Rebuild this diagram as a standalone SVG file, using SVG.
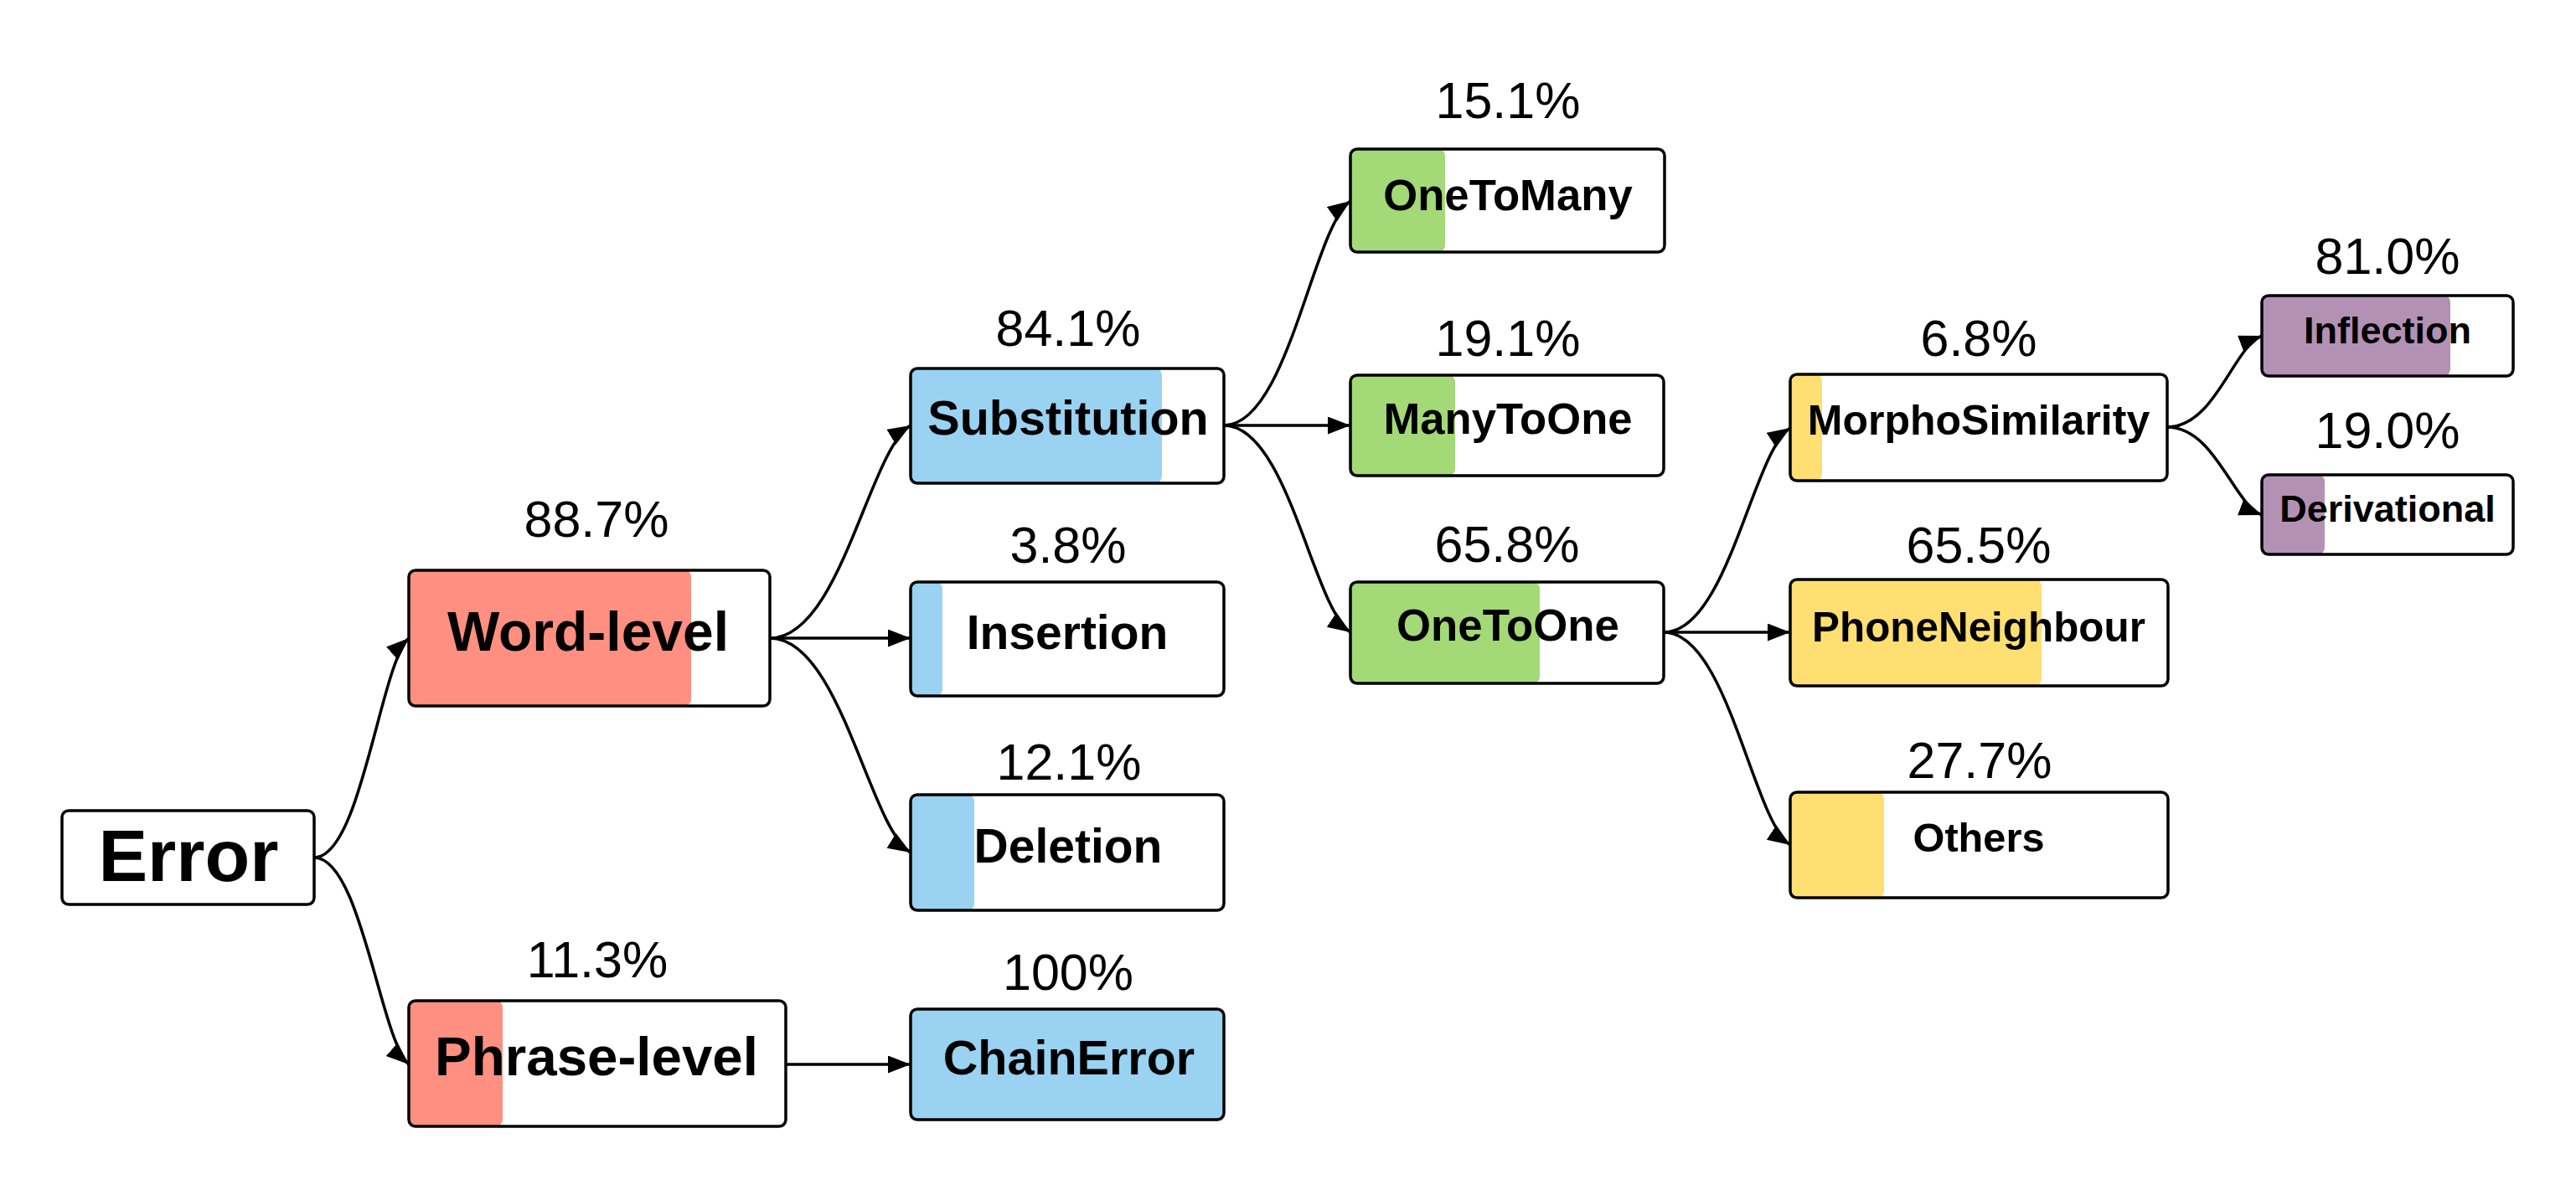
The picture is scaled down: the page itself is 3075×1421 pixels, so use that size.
<svg xmlns="http://www.w3.org/2000/svg" width="3075" height="1421" viewBox="0 0 3075 1421">
<style>
.box{fill:none;stroke:#000;stroke-width:3.5}
.bg{fill:#fff}
.red{fill:#FF8F80}
.blue{fill:#9AD2F2}
.green{fill:#A3D977}
.yellow{fill:#FFDF71}
.purple{fill:#B391B5}
.lbl{font-family:"Liberation Sans",Arial,sans-serif;font-weight:bold;text-anchor:middle;fill:#000}
.pct{font-family:"Liberation Sans",Arial,sans-serif;font-size:61px;text-anchor:middle;fill:#000}
.edge{fill:none;stroke:#000;stroke-width:3.5}
</style>
<defs>
<marker id="arr" markerUnits="userSpaceOnUse" markerWidth="28" markerHeight="22" refX="27" refY="10.5" orient="auto">
<path d="M0,0 L27,10.5 L0,21 z" fill="#000"/>
</marker>
</defs>
<rect width="3075" height="1421" fill="#fff"/>

<g id="connectors">
<path class="edge" marker-end="url(#arr)" d="M375,1024 C431,1024 454,793 488,762"/>
<path class="edge" marker-end="url(#arr)" d="M375,1024 C431,1024 454,1241 488,1271"/>
<path class="edge" marker-end="url(#arr)" d="M919,762 C1003,762 1037,538 1087,508"/>
<path class="edge" marker-end="url(#arr)" d="M919,762 L1087,762"/>
<path class="edge" marker-end="url(#arr)" d="M919,762 C1003,762 1037,987 1087,1018"/>
<path class="edge" marker-end="url(#arr)" d="M938,1271 L1087,1271"/>
<path class="edge" marker-end="url(#arr)" d="M1461,508 C1537,508 1567,272 1612,240"/>
<path class="edge" marker-end="url(#arr)" d="M1461,508 L1612,508"/>
<path class="edge" marker-end="url(#arr)" d="M1461,508 C1537,508 1567,725 1612,755"/>
<path class="edge" marker-end="url(#arr)" d="M1986,755 C2062,755 2092,540 2137,511"/>
<path class="edge" marker-end="url(#arr)" d="M1986,755 L2137,755"/>
<path class="edge" marker-end="url(#arr)" d="M1986,755 C2062,755 2092,979 2137,1009"/>
<path class="edge" marker-end="url(#arr)" d="M2587,510 C2644,510 2666,414 2700,401"/>
<path class="edge" marker-end="url(#arr)" d="M2587,510 C2644,510 2666,602 2700,615"/>
</g>

<g id="pcts">
<text class="pct" x="712" y="641">88.7%</text>
<text class="pct" x="713" y="1167">11.3%</text>
<text class="pct" x="1275" y="413">84.1%</text>
<text class="pct" x="1275" y="672">3.8%</text>
<text class="pct" x="1276" y="931">12.1%</text>
<text class="pct" x="1275" y="1182">100%</text>
<text class="pct" x="1800" y="141">15.1%</text>
<text class="pct" x="1800" y="425">19.1%</text>
<text class="pct" x="1799" y="671">65.8%</text>
<text class="pct" x="2362" y="425">6.8%</text>
<text class="pct" x="2362" y="672">65.5%</text>
<text class="pct" x="2363" y="929">27.7%</text>
<text class="pct" x="2850" y="327">81.0%</text>
<text class="pct" x="2850" y="535">19.0%</text>
</g>

<g id="node-error">
<rect class="bg" x="74" y="968" width="301" height="112" rx="8"/>
<rect class="box" x="74" y="968" width="301" height="112" rx="8"/>
<text class="lbl" x="225" y="1052" font-size="88">Error</text>
</g>

<g id="node-word-level">
<rect class="bg" x="488" y="681" width="431" height="162" rx="8"/>
<rect class="red" x="488" y="681" width="337" height="162" rx="8"/>
<rect class="box" x="488" y="681" width="431" height="162" rx="8"/>
<text class="lbl" x="702" y="777" font-size="66">Word-level</text>
</g>

<g id="node-phrase-level">
<rect class="bg" x="488" y="1195" width="450" height="150" rx="8"/>
<rect class="red" x="488" y="1195" width="112" height="150" rx="8"/>
<rect class="box" x="488" y="1195" width="450" height="150" rx="8"/>
<text class="lbl" x="712" y="1284" font-size="65.5">Phrase-level</text>
</g>

<g id="node-substitution">
<rect class="bg" x="1087" y="440" width="374" height="137" rx="8"/>
<rect class="blue" x="1087" y="440" width="300" height="137" rx="8"/>
<rect class="box" x="1087" y="440" width="374" height="137" rx="8"/>
<text class="lbl" x="1275" y="519" font-size="57.5">Substitution</text>
</g>

<g id="node-insertion">
<rect class="bg" x="1087" y="695" width="374" height="136" rx="8"/>
<rect class="blue" x="1087" y="695" width="38" height="136" rx="8"/>
<rect class="box" x="1087" y="695" width="374" height="136" rx="8"/>
<text class="lbl" x="1274" y="775" font-size="57">Insertion</text>
</g>

<g id="node-deletion">
<rect class="bg" x="1087" y="949" width="374" height="138" rx="8"/>
<rect class="blue" x="1087" y="949" width="76" height="138" rx="8"/>
<rect class="box" x="1087" y="949" width="374" height="138" rx="8"/>
<text class="lbl" x="1275" y="1030" font-size="57">Deletion</text>
</g>

<g id="node-chainerror">
<rect class="blue" x="1087" y="1205" width="374" height="132" rx="8"/>
<rect class="box" x="1087" y="1205" width="374" height="132" rx="8"/>
<text class="lbl" x="1276" y="1283" font-size="57.5">ChainError</text>
</g>

<g id="node-onetomany">
<rect class="bg" x="1612" y="178" width="375" height="123" rx="8"/>
<rect class="green" x="1612" y="178" width="113" height="123" rx="8"/>
<rect class="box" x="1612" y="178" width="375" height="123" rx="8"/>
<text class="lbl" x="1800" y="251" font-size="52.7">OneToMany</text>
</g>

<g id="node-manytoone">
<rect class="bg" x="1612" y="448" width="374" height="120" rx="8"/>
<rect class="green" x="1612" y="448" width="125" height="120" rx="8"/>
<rect class="box" x="1612" y="448" width="374" height="120" rx="8"/>
<text class="lbl" x="1800" y="518" font-size="52.6">ManyToOne</text>
</g>

<g id="node-onetoone">
<rect class="bg" x="1612" y="695" width="374" height="121" rx="8"/>
<rect class="green" x="1612" y="695" width="226" height="121" rx="8"/>
<rect class="box" x="1612" y="695" width="374" height="121" rx="8"/>
<text class="lbl" x="1800" y="765" font-size="52.8">OneToOne</text>
</g>

<g id="node-morphosimilarity">
<rect class="bg" x="2137" y="447" width="450" height="127" rx="8"/>
<rect class="yellow" x="2137" y="447" width="38" height="127" rx="8"/>
<rect class="box" x="2137" y="447" width="450" height="127" rx="8"/>
<text class="lbl" x="2362" y="519" font-size="50">MorphoSimilarity</text>
</g>

<g id="node-phoneneighbour">
<rect class="bg" x="2137" y="692" width="451" height="127" rx="8"/>
<rect class="yellow" x="2137" y="692" width="300" height="127" rx="8"/>
<rect class="box" x="2137" y="692" width="451" height="127" rx="8"/>
<text class="lbl" x="2362" y="766" font-size="49.4">PhoneNeighbour</text>
</g>

<g id="node-others">
<rect class="bg" x="2137" y="946" width="451" height="126" rx="8"/>
<rect class="yellow" x="2137" y="946" width="112" height="126" rx="8"/>
<rect class="box" x="2137" y="946" width="451" height="126" rx="8"/>
<text class="lbl" x="2362" y="1017" font-size="48.7">Others</text>
</g>

<g id="node-inflection">
<rect class="bg" x="2700" y="353" width="300" height="96" rx="8"/>
<rect class="purple" x="2700" y="353" width="225" height="96" rx="8"/>
<rect class="box" x="2700" y="353" width="300" height="96" rx="8"/>
<text class="lbl" x="2850" y="410" font-size="45">Inflection</text>
</g>

<g id="node-derivational">
<rect class="bg" x="2700" y="567" width="300" height="95" rx="8"/>
<rect class="purple" x="2700" y="567" width="75" height="95" rx="8"/>
<rect class="box" x="2700" y="567" width="300" height="95" rx="8"/>
<text class="lbl" x="2850" y="623" font-size="45">Derivational</text>
</g>
</svg>
